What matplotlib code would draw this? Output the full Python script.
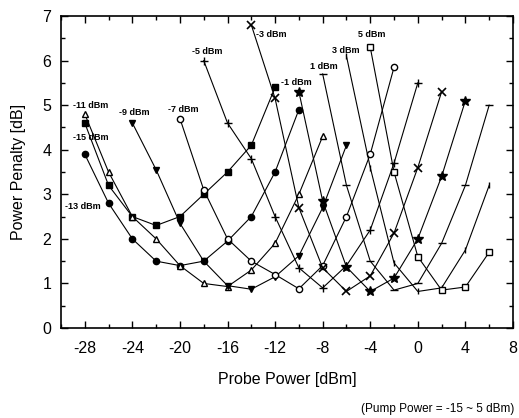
import matplotlib
matplotlib.use("Agg")
import matplotlib.pyplot as plt
from matplotlib.ticker import MultipleLocator

plt.rcParams['font.family'] = ['Liberation Sans', 'DejaVu Sans']
plt.rcParams['axes.unicode_minus'] = False

# ---- data: probe power (dBm) and power penalty (dB) for each pump power ----
pump_labels = ["-15 dBm", "-13 dBm", "-11 dBm", "-9 dBm", "-7 dBm", "-5 dBm",
               "-3 dBm", "-1 dBm", "1 dBm", "3 dBm", "5 dBm"]

x_m15 = [-28, -26, -24, -22, -20, -18, -16, -14, -12]
y_m15 = [4.6, 3.2, 2.5, 2.3, 2.5, 3.0, 3.5, 4.1, 5.4]

x_m13 = [-28, -26, -24, -22, -20, -18, -16, -14, -12, -10]
y_m13 = [3.9, 2.8, 2.0, 1.5, 1.4, 1.5, 1.95, 2.5, 3.5, 4.9]

x_m11 = [-28, -26, -24, -22, -20, -18, -16, -14, -12, -10, -8]
y_m11 = [4.8, 3.5, 2.5, 2.0, 1.4, 1.0, 0.93, 1.3, 1.9, 3.0, 4.3]

x_m9 = [-24, -22, -20, -18, -16, -14, -12, -10, -8, -6]
y_m9 = [4.6, 3.55, 2.35, 1.5, 0.95, 0.87, 1.15, 1.62, 2.7, 4.1]

x_m7 = [-20, -18, -16, -14, -12, -10, -8, -6, -4, -2]
y_m7 = [4.7, 3.1, 2.0, 1.5, 1.2, 0.88, 1.4, 2.5, 3.9, 5.85]

x_m5 = [-18, -16, -14, -12, -10, -8, -6, -4, -2, 0]
y_m5 = [6.0, 4.6, 3.8, 2.5, 1.35, 0.9, 1.4, 2.2, 3.7, 5.5]

x_m3 = [-14, -12, -10, -8, -6, -4, -2, 0, 2]
y_m3 = [6.8, 5.15, 2.7, 1.35, 0.82, 1.17, 2.13, 3.6, 5.3]

x_m1 = [-10, -8, -6, -4, -2, 0, 2, 4]
y_m1 = [5.3, 2.85, 1.37, 0.82, 1.12, 2.0, 3.4, 5.1]

x_p1 = [-8, -6, -4, -2, 0, 2, 4, 6]
y_p1 = [5.7, 3.2, 1.5, 0.85, 1.0, 1.9, 3.2, 5.0]

x_p3 = [-6, -4, -2, 0, 2, 4, 6]
y_p3 = [6.1, 3.6, 1.46, 0.82, 0.9, 1.75, 3.2]

x_p5 = [-4, -2, 0, 2, 4, 6]
y_p5 = [6.3, 3.5, 1.6, 0.85, 0.92, 1.7]

series_x = [x_m15, x_m13, x_m11, x_m9, x_m7, x_m5, x_m3, x_m1, x_p1, x_p3, x_p5]
series_y = [y_m15, y_m13, y_m11, y_m9, y_m7, y_m5, y_m3, y_m1, y_p1, y_p3, y_p5]

# label anchor positions (data coords, left/baseline)
label_x = [-29.0, -29.7, -29.0, -25.1, -21.0, -19.0, -13.6, -11.5, -9.1, -7.2, -5.0]
label_y = [4.22, 2.66, 4.93, 4.78, 4.84, 6.15, 6.53, 5.45, 5.81, 6.17, 6.53]

x_ticks = [-28, -24, -20, -16, -12, -8, -4, 0, 4, 8]
y_ticks = [0, 1, 2, 3, 4, 5, 6, 7]

# ---- styles ----
markers = ['s', 'o', '^', 'v', 'o', '+', 'x', '*', '_', '|', 's']
filled = [True, True, False, True, False, True, True, True, True, True, False]
msizes = [4.5, 4.5, 5, 5, 4.5, 6, 5.5, 7, 6, 5, 5]
medges = [1.0, 1.0, 1.0, 1.0, 1.0, 1.0, 1.2, 1.0, 1.0, 1.0, 1.0]

fig = plt.figure(figsize=(5.19, 4.18), dpi=100)
ax = fig.add_axes([0.1175, 0.2153, 0.8709, 0.7464])

for xs, ys, m, f, ms, me in zip(series_x, series_y, markers, filled, msizes, medges):
    ax.plot(xs, ys, color='black', lw=0.8, marker=m, markersize=ms,
            markerfacecolor='black' if f else 'white',
            markeredgecolor='black', markeredgewidth=me)

for lab, lx, ly in zip(pump_labels, label_x, label_y):
    ax.text(lx, ly, lab, fontsize=6.5, fontweight='bold', ha='left', va='baseline')

ax.set_xlim(-30, 8)
ax.set_ylim(0, 7)
ax.set_xticks(x_ticks)
ax.set_yticks(y_ticks)
ax.xaxis.set_minor_locator(MultipleLocator(2))
ax.yaxis.set_minor_locator(MultipleLocator(0.5))
ax.tick_params(which='both', direction='in', top=True, right=True, width=1.0)
ax.tick_params(which='major', length=5, labelsize=11.5)
ax.tick_params(axis='x', which='major', pad=9)
ax.tick_params(axis='y', which='major', pad=7)
ax.tick_params(which='minor', length=3)
for s in ax.spines.values():
    s.set_linewidth(1.2)

ax.set_xlabel("Probe Power [dBm]", fontsize=11.5, labelpad=12)
ax.set_ylabel("Power Penalty [dB]", fontsize=11.5, labelpad=12)

fig.text(0.992, 0.008, "(Pump Power = -15 ~ 5 dBm)", fontsize=8.5, ha='right', va='bottom')

fig.savefig("out.png", dpi=100)
